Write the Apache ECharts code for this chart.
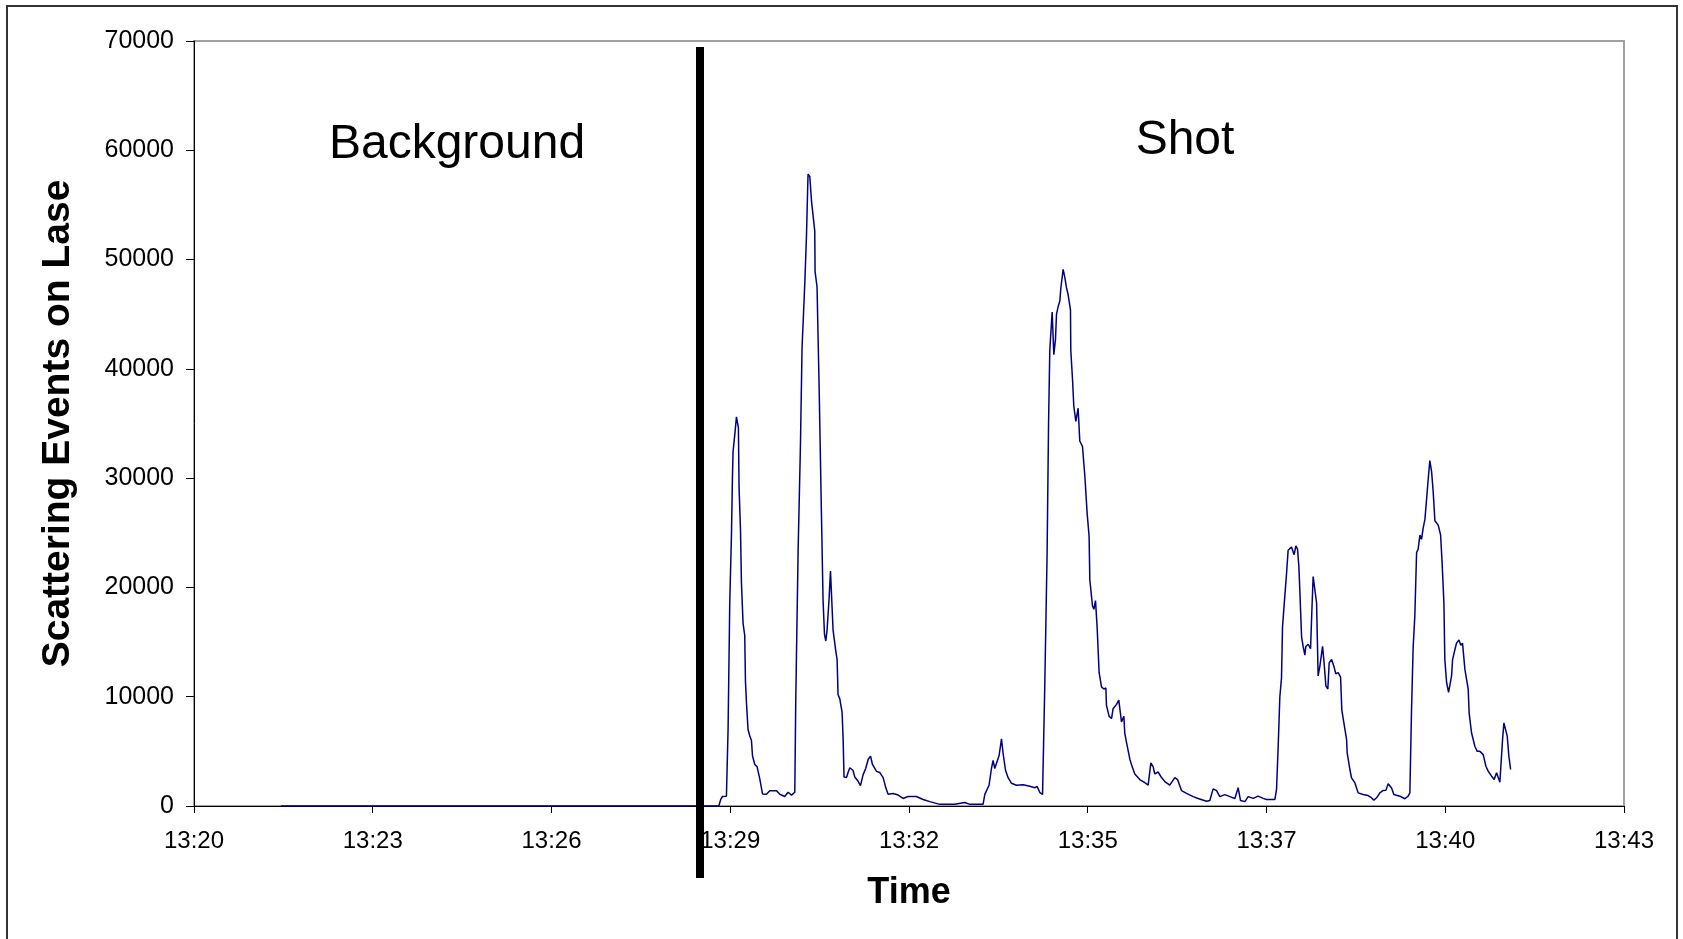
<!DOCTYPE html>
<html>
<head>
<meta charset="utf-8">
<title>Scattering Events on Lase</title>
<script src="https://cdn.jsdelivr.net/npm/echarts@6/dist/echarts.min.js"></script>
<style>
    html, body { margin: 0; padding: 0; background: #fff; }
    #main { width: 1683px; height: 939px; }
</style>
</head>
<body>
<div id="main"></div>
<script>
// seconds after 13:20:00
var timeSec = [
    122.4, 237.3, 334.0, 430.6, 545.7, 547.6, 549.3, 553.1, 554.7, 556.3,
    558.0, 558.9, 559.5, 561.2, 562.8, 564.7, 565.3, 566.7, 567.6, 569.2,
    570.8, 571.5, 572.5, 574.0, 575.7, 577.3, 578.3, 580.5, 582.7, 585.3,
    588.0, 591.8, 595.0, 601.5, 604.7, 609.5, 612.7, 616.0, 619.2, 620.1,
    622.4, 624.7, 626.2, 628.9, 630.5, 632.0, 633.7, 635.3, 637.6, 638.5,
    638.8, 640.7, 642.7, 645.0, 646.5, 647.9, 649.2, 650.4, 652.3, 653.7,
    654.9, 656.2, 658.8, 660.1, 661.0, 662.7, 664.9, 665.9, 666.8, 669.2,
    670.7, 672.4, 675.5, 677.2, 680.4, 682.7, 685.2, 687.8, 690.1, 692.4,
    694.3, 698.2, 701.4, 704.6, 707.2, 709.4, 714.2, 719.1, 723.9, 728.7,
    736.8, 743.2, 749.7, 759.4, 773.9, 783.5, 788.4, 801.2, 802.9, 807.0,
    809.3, 810.9, 812.5, 814.2, 816.7, 819.0, 820.6, 822.9, 825.4, 828.7,
    833.5, 839.9, 846.4, 851.2, 853.4, 856.1, 858.7, 860.9, 863.1, 864.5,
    865.7, 868.0, 869.6, 871.2, 872.2, 873.8, 875.4, 876.4, 878.6, 880.2,
    881.9, 883.4, 885.7, 886.0, 887.7, 888.9, 890.9, 893.1, 894.7, 897.3,
    899.6, 901.8, 903.7, 904.4, 907.0, 908.3, 909.9, 911.5, 913.4, 915.7,
    917.9, 919.9, 920.5, 923.1, 925.4, 926.9, 930.2, 932.4, 935.0, 937.3,
    938.2, 939.9, 943.1, 944.7, 947.9, 952.7, 957.6, 960.8, 963.4, 965.6,
    967.2, 970.4, 973.7, 976.9, 981.7, 986.6, 989.2, 993.1, 997.9, 1004.3,
    1009.1, 1017.2, 1020.4, 1023.6, 1026.9, 1030.1, 1034.9, 1039.8, 1044.6, 1047.8,
    1050.1, 1054.3, 1057.5, 1059.1, 1062.3, 1067.1, 1072.0, 1075.2, 1083.3, 1084.9,
    1086.5, 1088.1, 1089.7, 1090.7, 1092.9, 1094.6, 1096.1, 1099.4, 1101.9, 1103.6,
    1105.2, 1106.5, 1107.4, 1109.1, 1110.6, 1112.3, 1113.2, 1115.5, 1117.8, 1119.0,
    1120.3, 1121.9, 1123.6, 1125.1, 1126.8, 1129.4, 1130.6, 1132.6, 1134.5, 1135.8,
    1138.1, 1140.3, 1142.2, 1144.5, 1146.8, 1148.0, 1150.0, 1152.6, 1153.2, 1155.8,
    1157.4, 1160.6, 1163.8, 1168.6, 1173.5, 1175.8, 1179.0, 1181.6, 1184.8, 1188.0,
    1190.6, 1192.8, 1196.1, 1198.3, 1204.1, 1209.0, 1212.1, 1213.8, 1215.4, 1217.0,
    1218.6, 1220.3, 1221.8, 1223.5, 1225.1, 1226.6, 1228.3, 1229.9, 1231.5, 1233.1,
    1234.8, 1236.3, 1238.0, 1241.2, 1243.5, 1245.0, 1246.7, 1247.6, 1249.3, 1251.2,
    1254.1, 1255.1, 1257.3, 1258.9, 1261.2, 1263.1, 1264.7, 1267.0, 1270.2, 1271.1,
    1273.4, 1276.6, 1278.9, 1281.5, 1284.7, 1287.3, 1289.5, 1292.8, 1295.3, 1297.6,
    1300.8, 1303.4, 1304.7, 1306.6, 1307.9, 1309.5, 1311.2
];
var counts = [
    0, 0, 0, 0, 0, 600, 870, 900, 7000, 18500,
    24900, 30000, 32400, 34000, 35600, 34600, 29200, 25300, 20500, 16700,
    15600, 11400, 9400, 7000, 6400, 6000, 4600, 3800, 3600, 2500,
    1100, 1070, 1400, 1400, 1070, 870, 1260, 1000, 1260, 9400,
    23300, 33200, 41900, 47900, 52200, 57800, 57600, 55400, 53400, 52600,
    48900, 47500, 38400, 26500, 18900, 15700, 15100, 16100, 18900, 21500,
    21500, 16100, 14200, 13400, 10200, 9800, 8600, 6200, 2650, 2600,
    3060, 3500, 3250, 2650, 2260, 1870, 2850, 3450, 4250, 4560,
    3800, 3170, 3060, 2600, 1660, 1070, 1150, 1000, 690, 870,
    870, 600, 400, 150, 150, 320, 150, 150, 1060, 1900,
    3430, 4180, 3430, 3520, 4620, 6140, 4780, 3270, 2590, 2080,
    1900, 1940, 1800, 1670, 1800, 1230, 1060, 11200, 23100, 34900,
    41700, 45200, 41300, 42700, 45000, 45700, 46200, 47400, 49100, 48400,
    47400, 46800, 45400, 41700, 39000, 36600, 35200, 36400, 33400, 32900,
    30200, 26800, 24700, 20700, 18300, 18000, 18800, 16300, 12200, 10900,
    10700, 10800, 9200, 8200, 8000, 8900, 9300, 9700, 7700, 8200,
    6650, 5800, 4280, 3770, 2930, 2420, 2130, 1910, 3940, 3600,
    2930, 3110, 2600, 2240, 1910, 2600, 2420, 1400, 1150, 860,
    680, 430, 500, 1570, 1400, 860, 1040, 860, 680, 1670,
    500, 400, 860, 900, 700, 900, 700, 600, 600, 1510,
    5470, 10000, 11700, 16400, 19200, 21300, 23400, 23700, 23000, 23800,
    23500, 21900, 19800, 15500, 14600, 13800, 14600, 14800, 14400, 17700,
    21000, 21000, 18600, 11900, 12800, 14600, 13400, 11000, 10700, 13100,
    13400, 12800, 12100, 12200, 11800, 8800, 7600, 6100, 4870, 3340,
    2580, 2130, 1200, 1060, 960, 820, 540, 750, 1200, 1420,
    1430, 2040, 1650, 1060, 900, 660, 900, 1200, 8800, 14600,
    17400, 23200, 23500, 24800, 24400, 25400, 26200, 28000, 29900, 31600,
    30600, 28800, 26100, 25700, 24800, 22200, 18600, 13400, 11300, 10400,
    11900, 13400, 14300, 14900, 15200, 14700, 14900, 12500, 10700, 8500,
    6700, 5470, 5000, 5000, 4700, 3640, 3190, 2730, 2430, 3040,
    2180, 6080, 7610, 7460, 6400, 4560, 3340
];

var startSec = 13 * 3600 + 20 * 60;   // 13:20:00 as seconds of the day
var dividerSec = 527.3;               // the "background | shot" separator
var regionNames = ['Background', 'Shot'];

var FONT = '"Liberation Sans", Arial, Helvetica, sans-serif';

function pad(n) {
    return n < 10 ? '0' + n : '' + n;
}
// h:mm with the seconds dropped, like the spreadsheet shows it
function hhmm(v) {
    var m = Math.floor(v / 60 + 1e-6);
    return Math.floor(m / 60) + ':' + pad(m % 60);
}

var points = timeSec.map(function (s, i) {
    return [startSec + s, counts[i]];
});

var myChart = echarts.init(document.getElementById('main'));

var option = {
    backgroundColor: '#fff',
    animation: false,
    grid: {
        left: 194,
        right: 59,
        top: 41,
        bottom: 133,
        show: true,
        borderColor: '#a0a0a0',
        borderWidth: 2,
        backgroundColor: 'transparent',
        containLabel: false,
        outerBoundsMode: 'none'
    },
    xAxis: {
        type: 'value',
        min: 48038.4,      // 278 * 172.8
        max: 49420.8,
        interval: 172.8,
        name: 'Time',
        nameLocation: 'middle',
        nameGap: 69,
        nameTextStyle: {
            fontFamily: FONT,
            fontSize: 36,
            fontWeight: 'bold',
            color: '#000'
        },
        axisLine: { show: true, onZero: false, lineStyle: { color: '#000', width: 1 } },
        axisTick: { show: true, length: 7, lineStyle: { color: '#000', width: 1 } },
        axisLabel: {
            margin: 23,
            fontFamily: FONT,
            fontSize: 24,
            color: '#000',
            showMinLabel: true,
            showMaxLabel: true,
            formatter: hhmm
        },
        splitLine: { show: false }
    },
    yAxis: {
        type: 'value',
        min: 0,
        max: 70000,
        interval: 10000,
        name: 'Scattering Events on Lase',
        nameLocation: 'middle',
        nameGap: 116,
        nameTextStyle: {
            fontFamily: FONT,
            fontSize: 39,
            fontWeight: 'bold',
            color: '#000'
        },
        axisLine: { show: true, lineStyle: { color: '#000', width: 1 } },
        axisTick: { show: true, length: 8, lineStyle: { color: '#000', width: 1 } },
        axisLabel: {
            margin: 20,
            fontFamily: FONT,
            fontSize: 25,
            color: '#000',
            formatter: function (v) { return String(v); }
        },
        splitLine: { show: false }
    },
    series: [{
        name: 'Scattering events',
        type: 'line',
        data: points,
        showSymbol: false,
        symbol: 'none',
        lineStyle: { color: '#000080', width: 1.5 },
        z: 3
    }]
};

myChart.setOption(option);

// separator and region captions, placed after the axes exist
var divX = Math.round(myChart.convertToPixel({ xAxisIndex: 0 }, startSec + dividerSec));

myChart.setOption({
    graphic: [{
        type: 'rect',
        silent: true,
        shape: { x: 7, y: 6, width: 1670, height: 1000 },
        style: { fill: 'none', stroke: '#333', lineWidth: 2 }
    }, {
        type: 'line',
        silent: true,
        z: 10,
        shape: { x1: divX, y1: 47, x2: divX, y2: 878 },
        style: { stroke: '#000', lineWidth: 8 }
    }, {
        type: 'text',
        silent: true,
        x: 457,
        y: 145,
        style: {
            text: regionNames[0],
            fontFamily: FONT,
            fontSize: 48,
            fill: '#000',
            textAlign: 'center',
            textVerticalAlign: 'middle'
        }
    }, {
        type: 'text',
        silent: true,
        x: 1185,
        y: 141,
        style: {
            text: regionNames[1],
            fontFamily: FONT,
            fontSize: 48,
            fill: '#000',
            textAlign: 'center',
            textVerticalAlign: 'middle'
        }
    }]
});
</script>
</body>
</html>
